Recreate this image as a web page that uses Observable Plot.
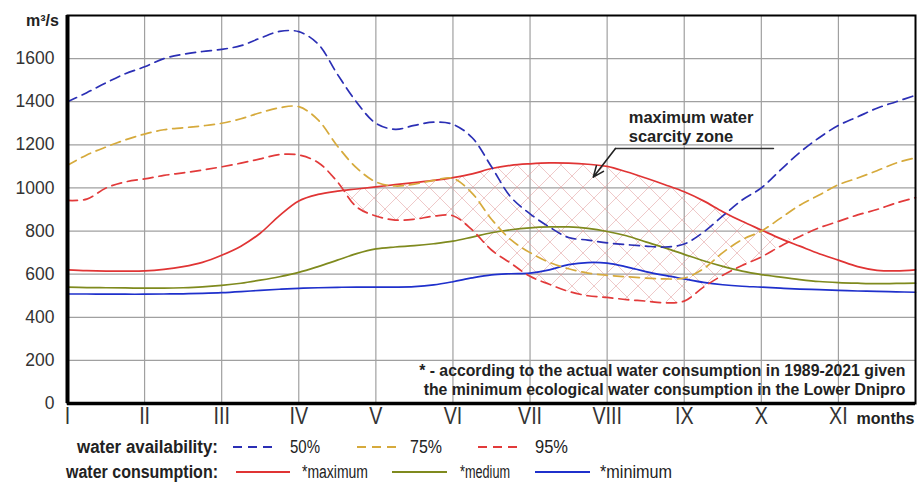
<!DOCTYPE html>
<html><head><meta charset="utf-8">
<script src="https://cdn.jsdelivr.net/npm/d3@7"></script>
<script src="https://cdn.jsdelivr.net/npm/@observablehq/plot@0.6"></script>
<style>
body{margin:0;background:#fff;}
#wrap{position:relative;width:919px;height:484px;background:#fff;}
svg{display:block;}
</style></head><body><div id="wrap"></div>
<script>
// ---- data ----
const months = [1,1.25,1.5,1.75,2,2.25,2.5,2.75,3,3.25,3.5,3.75,4,4.25,4.5,4.75,5,5.25,5.5,5.75,6,6.25,6.5,6.75,7,7.25,7.5,7.75,8,8.25,8.5,8.75,9,9.25,9.5,9.75,10,10.25,10.5,10.75,11,11.25,11.5,11.75,12];
const avail50 = [1400,1442,1488,1530,1562,1600,1620,1633,1643,1660,1695,1726,1725,1668,1528,1398,1300,1272,1290,1305,1295,1233,1098,958,880,819,770,758,745,737,730,726,740,795,870,944,1000,1084,1165,1233,1290,1330,1370,1400,1430];
const avail75 = [1105,1153,1190,1223,1250,1270,1279,1288,1300,1321,1349,1372,1377,1316,1195,1093,1028,1009,1018,1035,1045,975,855,760,700,655,625,605,595,588,582,578,582,625,700,760,800,860,920,967,1015,1046,1080,1116,1140];
const avail95 = [942,948,1000,1028,1042,1058,1070,1083,1098,1115,1135,1155,1153,1118,1029,912,870,851,855,869,871,805,712,651,590,553,520,500,492,482,475,467,475,540,595,640,680,730,775,815,845,875,900,930,955];
const consMax = [620,616,614,614,615,622,635,655,688,730,790,872,940,970,985,995,1005,1015,1025,1035,1048,1065,1090,1105,1112,1116,1115,1110,1100,1075,1046,1015,982,940,890,845,805,765,730,695,665,635,618,615,620];
const consMed = [540,538,537,536,535,535,537,541,548,558,572,588,608,635,665,695,717,726,732,741,753,772,792,806,815,819,819,812,798,778,750,722,692,662,636,614,598,586,575,566,561,558,556,557,558];
const consMin = [508,508,507,507,507,508,509,511,514,519,525,530,534,537,539,540,540,540,542,550,565,583,597,602,605,620,644,654,651,634,612,594,578,562,551,544,540,535,531,528,525,522,520,518,516];
const monthLabels = ["I","II","III","IV","V","VI","VII","VIII","IX","X","XI"];
const yTicks = [0,200,400,600,800,1000,1200,1400,1600];
const availLabels = ["50%","75%","95%"];
const consLabels = ["*maximum","*medium","*minimum"];
const footnote = "* - according to the actual water consumption in 1989-2021 given\nthe minimum ecological water consumption in the Lower Dnipro";
const zoneLabel = "maximum water\nscarcity zone";

// ---- styles ----
const C = {b50:"#2b2fb5", g75:"#d6aa3c", r95:"#e23a3a", rmax:"#e03434", omed:"#7f8a1e", bmin:"#1f30cc"};
const SANS = '"Liberation Sans", Arial, sans-serif';
const curve = "catmull-rom";
const DASH = "10,6";

const data = months.map((m,i)=>({m, p50:avail50[i], p75:avail75[i], p95:avail95[i], cmax:consMax[i], cmed:consMed[i], cmin:consMin[i]}));

const line = (key, color, dashed) => Plot.line(data, {x:"m", y:key, stroke:color, strokeWidth:1.7, strokeDasharray: dashed ? DASH : null, curve});

const chart = Plot.plot({
  width:919, height:432,
  marginLeft:67, marginRight:4, marginTop:15, marginBottom:29,
  x:{domain:[1,12]},
  y:{domain:[0,1800]},
  style:{fontFamily:SANS, color:"#333", background:"white", overflow:"visible"},
  marks:[
    Plot.gridX(d3.range(2,12), {stroke:"#a0a0a0", strokeOpacity:1, strokeWidth:1.2}),
    Plot.gridY(yTicks.slice(1).concat([1800]), {stroke:"#a0a0a0", strokeOpacity:1, strokeWidth:1.2}),
    Plot.areaY(data, {x:"m", y1:"p95", y2:d=>Math.max(d.p95, d.cmax), fill:"url(#hatch)", curve}),
    line("cmin", C.bmin, false),
    line("cmed", C.omed, false),
    line("cmax", C.rmax, false),
    line("p95", C.r95, true),
    line("p75", C.g75, true),
    line("p50", C.b50, true),
    Plot.frame({stroke:"#000", strokeWidth:2}),
    Plot.ruleX([1], {stroke:"#000", strokeWidth:4}),
    Plot.ruleY([0], {stroke:"#000", strokeWidth:3.5}),
    Plot.axisY(yTicks, {tickSize:0, tickPadding:13, fontSize:17.5, tickFormat:d=>String(d), label:null, fill:"#333"}),
    Plot.axisX(d3.range(1,12), {tickSize:0, tickPadding:3, fontSize:24, tickFormat:d=>monthLabels[d-1], label:null, fill:"#333"}),
    Plot.text(["m³/s"], {frameAnchor:"top-left", textAnchor:"middle", lineAnchor:"middle", dx:-25, dy:5, fontSize:16, fontWeight:"bold", fill:"#222"}),
    Plot.text(["months"], {frameAnchor:"bottom-right", textAnchor:"middle", lineAnchor:"middle", dx:-30, dy:15, fontSize:16, fontWeight:"bold", fill:"#222"}),
    Plot.text([footnote], {frameAnchor:"bottom-right", textAnchor:"end", lineAnchor:"bottom", dx:-10, dy:-9, fontSize:15.8, fontWeight:"bold", lineHeight:1.15, fill:"#222", ariaLabel:"footnote"}),
    Plot.line([[8.108,1183],[10.157,1183]], {stroke:"#333", strokeWidth:1.6}),
    Plot.arrow([[8.108,1183,7.82,1050]], {x1:d=>d[0], y1:d=>d[1], x2:d=>d[2], y2:d=>d[3], stroke:"#222", strokeWidth:1.6, headLength:11, headAngle:45}),
    Plot.text([zoneLabel], {x:8.28, y:1285, textAnchor:"start", lineAnchor:"middle", fontSize:16.5, fontWeight:"bold", lineHeight:1.15, fill:"#222", ariaLabel:"zone"})
  ]
});

const wrap = document.getElementById("wrap");
wrap.appendChild(chart);
const svg = d3.select(chart);

// narrow the month numerals (condensed look of the original)
svg.selectAll('g[aria-label="x-axis tick label"] text').each(function(){
  const t = this.getAttribute("transform") || "";
  this.setAttribute("transform", t + " scale(0.82,1)");
});

// hatch pattern
const pat = svg.insert("defs", ":first-child").append("pattern")
  .attr("id","hatch").attr("patternUnits","userSpaceOnUse").attr("width",22).attr("height",22);
pat.append("path").attr("d","M-2,-2L24,24M24,-2L-2,24")
  .attr("stroke","#e29c9c").attr("stroke-width",0.65).attr("stroke-opacity",0.85).attr("fill","none");

// white boxes behind annotation texts
function boxBehind(label, padX, padY) {
  const g = svg.select(`g[aria-label="${label}"]`);
  if (g.empty()) return;
  const bb = g.node().getBBox();
  svg.insert("rect", () => g.node())
    .attr("x", bb.x - padX).attr("y", bb.y - padY)
    .attr("width", bb.width + 2*padX).attr("height", bb.height + 2*padY)
    .attr("fill","white");
}
boxBehind("footnote", 6, 0);
boxBehind("zone", 6, 3);

// legend
const leg = d3.select(wrap).append("svg").attr("width",919).attr("height",52)
  .style("font-family", SANS).style("font-size","18px").attr("fill","#222");
const rows = [
  {y:15, label:"water availability:", labelW:141, labels:availLabels, colors:[C.b50,C.g75,C.r95], dashed:true,
   samples:[[233,275],[357,398],[478,522]], texts:[[290,30],[410,32],[535,33]]},
  {y:40, label:"water consumption:", labelW:152, labels:consLabels, colors:[C.rmax,C.omed,C.bmin], dashed:false,
   samples:[[236,290],[392,447],[535,590]], texts:[[302,66],[460,50],[600,72]]}
];
rows.forEach(r=>{
  leg.append("text").attr("x",218 - r.labelW).attr("y",r.y).attr("dy","0.35em")
    .attr("font-weight","bold").attr("textLength", r.labelW).attr("lengthAdjust","spacingAndGlyphs").text(r.label);
  r.labels.forEach((t,i)=>{
    leg.append("line").attr("x1",r.samples[i][0]).attr("x2",r.samples[i][1]).attr("y1",r.y).attr("y2",r.y)
      .attr("stroke",r.colors[i]).attr("stroke-width",2).attr("stroke-dasharray", r.dashed ? "9,6" : null);
    leg.append("text").attr("x",r.texts[i][0]).attr("y",r.y).attr("dy","0.35em")
      .attr("textLength", r.texts[i][1]).attr("lengthAdjust","spacingAndGlyphs").text(t);
  });
});
</script>
</body></html>
